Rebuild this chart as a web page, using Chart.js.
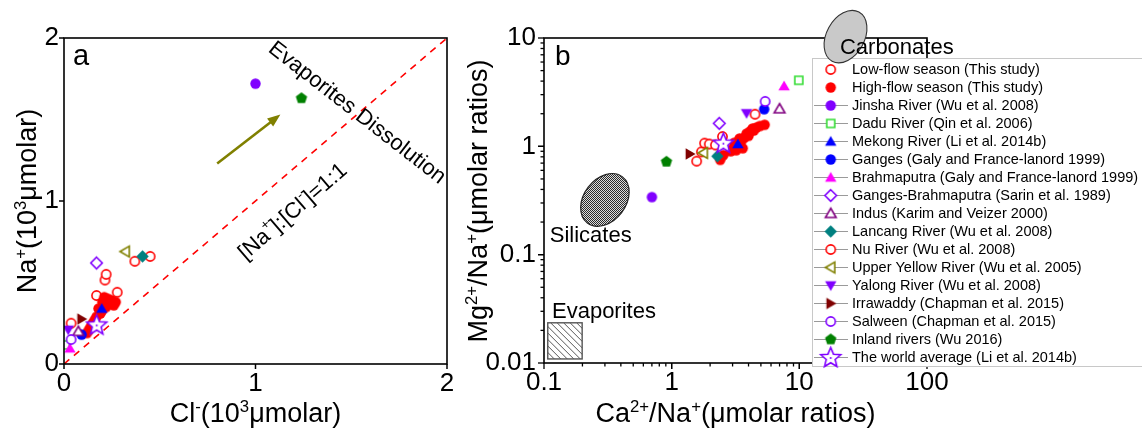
<!DOCTYPE html>
<html><head><meta charset="utf-8">
<script src="https://cdn.jsdelivr.net/npm/chart.js@4/dist/chart.umd.min.js"></script>
<style>
html,body{margin:0;padding:0;background:#fff;width:1142px;height:433px;overflow:hidden}
#ca{position:absolute;left:0;top:0}
#cb{position:absolute;left:460px;top:0}
</style></head><body>
<canvas id="ca" width="460" height="433"></canvas>
<canvas id="cb" width="682" height="433"></canvas>
<script>
const FONT = 'Arial, "Liberation Sans", Helvetica, sans-serif';

// ---------------- series (legend order) ----------------
const seriesNames = [
  'Low-flow season (This study)',
  'High-flow season (This study)',
  'Jinsha River (Wu et al. 2008)',
  'Dadu River (Qin et al. 2006)',
  'Mekong River (Li et al. 2014b)',
  'Ganges (Galy and France-lanord 1999)',
  'Brahmaputra (Galy and France-lanord 1999)',
  'Ganges-Brahmaputra (Sarin et al. 1989)',
  'Indus (Karim and Veizer 2000)',
  'Lancang River (Wu et al. 2008)',
  'Nu River (Wu et al. 2008)',
  'Upper Yellow River (Wu et al. 2005)',
  'Yalong River (Wu et al. 2008)',
  'Irrawaddy (Chapman et al. 2015)',
  'Salween (Chapman et al. 2015)',
  'Inland rivers (Wu 2016)',
  'The world average (Li et al. 2014b)'
];

// ---------------- panel a: [Cl-, Na+] (10^3 umolar) ----------------
const aLowFlow = [[0.17,0.42],[0.214,0.515],[0.22,0.55],[0.278,0.44],[0.37,0.63],[0.45,0.66]];
const aHighFlow = [[0.21,0.41],[0.23,0.40],[0.25,0.39],[0.27,0.38],[0.26,0.36],[0.24,0.37],[0.22,0.35],
                   [0.20,0.33],[0.19,0.31],[0.17,0.29],[0.16,0.27],[0.15,0.25],[0.14,0.23],[0.13,0.21],
                   [0.12,0.19],[0.20,0.38],[0.18,0.34]];
const aJinsha = [[1.0,1.72]];
const aDadu = [[0.008,0.117]];
const aMekong = [[0.197,0.34]];
const aGanges = [[0.092,0.18]];
const aBrahmaputra = [[0.031,0.096]];
const aGangesBrahmaputra = [[0.17,0.62]];
const aIndus = [[0.075,0.20]];
const aLancang = [[0.41,0.66]];
const aNu = [[0.037,0.25]];
const aUpperYellow = [[0.32,0.69]];
const aYalong = [[0.022,0.21]];
const aIrrawaddy = [[0.092,0.276]];
const aSalween = [[0.037,0.15]];
const aInland = [[1.24,1.63]];
const aWorld = [[0.171,0.24]];
const aOneToOne = [[0,0],[2,2]];
const aXTicks = [0,1,2], aXTickLabels = ['0','1','2'];
const aYTicks = [0,1,2], aYTickLabels = ['0','1','2'];
const aArrow = [[0.80,1.23],[1.13,1.53]];

// ---------------- panel b: [Ca2+/Na+, Mg2+/Na+] ----------------
const bLowFlow = [[1.57,0.73],[1.71,0.89],[1.81,1.07],[1.97,1.05],[2.2,1.03],[4.5,1.98]];
const bHighFlow = [[2.4,0.75],[2.54,0.83],[2.9,0.9],[3.0,0.95],[3.2,0.99],[3.3,1.04],[3.5,1.11],[3.6,0.96],
                   [3.7,1.2],[3.86,1.31],[4.1,1.37],[4.3,1.46],[4.6,1.49],[4.9,1.54],[5.35,1.58],[3.1,1.08],
                   [3.4,1.18],[4.0,1.25],[3.2,0.92],[4.4,1.40]];
const bJinsha = [[0.70,0.34]];
const bDadu = [[9.9,4.07]];
const bMekong = [[3.3,1.05]];
const bGanges = [[5.3,2.2]];
const bBrahmaputra = [[7.6,3.6]];
const bGangesBrahmaputra = [[2.36,1.63]];
const bIndus = [[7.0,2.22]];
const bLancang = [[2.28,0.81]];
const bNu = [[2.5,1.23]];
const bUpperYellow = [[1.77,0.87]];
const bYalong = [[3.86,2.02]];
const bIrrawaddy = [[1.39,0.85]];
const bSalween = [[5.4,2.6]];
const bInland = [[0.91,0.72]];
const bWorld = [[2.54,1.07]];
const bXTicks = [0.1,1,10,100], bXTickLabels = ['0.1','1','10','100'];
const bYTicks = [0.01,0.1,1,10], bYTickLabels = ['0.01','0.1','1','10'];
const bCarbonates = [23,10.3];
const bSilicates = [0.30,0.32];
const bEvaporites = [0.107,0.199,0.0109,0.0235];

const aSeries = [aLowFlow,aHighFlow,aJinsha,aDadu,aMekong,aGanges,aBrahmaputra,aGangesBrahmaputra,aIndus,
                 aLancang,aNu,aUpperYellow,aYalong,aIrrawaddy,aSalween,aInland,aWorld];
const bSeries = [bLowFlow,bHighFlow,bJinsha,bDadu,bMekong,bGanges,bBrahmaputra,bGangesBrahmaputra,bIndus,
                 bLancang,bNu,bUpperYellow,bYalong,bIrrawaddy,bSalween,bInland,bWorld];

// ---------------- marker styles ----------------
const markerStyles = [
  {shape:'circle', color:'#ff0000', filled:false, r:4.6},
  {shape:'circle', color:'#ff0000', filled:true, r:5.2},
  {shape:'circle', color:'#8000ff', filled:true, r:5.2},
  {shape:'square', color:'#33dd33', filled:false, r:4},
  {shape:'triUp', color:'#0000ff', filled:true, r:6.6},
  {shape:'circle', color:'#0000ff', filled:true, r:5.2},
  {shape:'triUp', color:'#ff00ff', filled:true, r:6.6},
  {shape:'diamond', color:'#8000ff', filled:false, r:5.8},
  {shape:'triUp', color:'#800080', filled:false, r:6.2},
  {shape:'diamond', color:'#008080', filled:true, r:6.2},
  {shape:'circle', color:'#ff0000', filled:false, r:4.6},
  {shape:'triLeft', color:'#808000', filled:false, r:6.2},
  {shape:'triDown', color:'#8000ff', filled:true, r:6.6},
  {shape:'triRight', color:'#800000', filled:true, r:6.6},
  {shape:'circle', color:'#8000ff', filled:false, r:4.6},
  {shape:'pentagon', color:'#008000', filled:true, r:6},
  {shape:'star', color:'#8000ff', filled:false, r:10.5}
];

function polyPath(g, cx, cy, n, r, start, inner) {
  const pts = inner ? n*2 : n;
  for (let i=0;i<pts;i++){
    const a = start + i*2*Math.PI/pts;
    const rr = inner ? (i%2===0 ? r : inner) : r;
    const x = cx + rr*Math.cos(a), y = cy + rr*Math.sin(a);
    if (i===0) g.moveTo(x,y); else g.lineTo(x,y);
  }
  g.closePath();
}
function makeMarker(st) {
  const lw = st.filled ? 0 : 1.6;
  const s = Math.ceil(2*(st.r+lw+2));
  const c = document.createElement('canvas'); c.width = s; c.height = s;
  const g = c.getContext('2d');
  const cx = s/2, cy = s/2, r = st.r;
  g.beginPath();
  switch (st.shape) {
    case 'circle': g.arc(cx,cy,r,0,2*Math.PI); break;
    case 'square': g.rect(cx-r,cy-r,2*r,2*r); break;
    case 'diamond': polyPath(g,cx,cy,4,r,-Math.PI/2); break;
    case 'triUp': polyPath(g,cx,cy+r*0.15,3,r,-Math.PI/2); break;
    case 'triDown': polyPath(g,cx,cy-r*0.15,3,r,Math.PI/2); break;
    case 'triLeft': polyPath(g,cx+r*0.15,cy,3,r,Math.PI); break;
    case 'triRight': polyPath(g,cx-r*0.15,cy,3,r,0); break;
    case 'pentagon': polyPath(g,cx,cy,5,r,-Math.PI/2); break;
    case 'star': polyPath(g,cx,cy+0.5,5,r,-Math.PI/2,r*0.45); break;
  }
  if (st.filled) { g.fillStyle = st.color; g.fill(); }
  else { g.fillStyle = '#fff'; g.fill(); g.lineWidth = lw; g.strokeStyle = st.color; g.lineJoin='miter'; g.stroke(); }
  if (st.shape === 'star') { g.beginPath(); g.arc(cx,cy+0.5,1,0,2*Math.PI); g.fillStyle = st.color; g.fill(); }
  return c;
}
const markerImgs = markerStyles.map(makeMarker);

function makeDatasets(series) {
  return series.map((arr,i)=>({
    label: seriesNames[i],
    data: arr.map(p=>({x:p[0], y:p[1]})),
    pointStyle: markerImgs[i],
    pointRadius: markerStyles[i].r,
    order: 40 - i
  }));
}

// rich text with superscripts: parts = [[text, isSup], ...]
function drawRich(ctx, parts, x, y, size, rot, baseline) {
  ctx.save();
  ctx.translate(x,y); ctx.rotate(rot||0);
  let w = 0;
  const ws = parts.map(([t,sup])=>{ ctx.font = (sup?size*0.62:size)+'px '+FONT; const m = ctx.measureText(t).width; w += m; return m; });
  let cx = -w/2;
  ctx.textAlign = 'left'; ctx.textBaseline = baseline || 'alphabetic'; ctx.fillStyle = '#000';
  parts.forEach(([t,sup],i)=>{
    ctx.font = (sup?size*0.62:size)+'px '+FONT;
    ctx.fillText(t, cx, sup ? -size*0.36 : 0);
    cx += ws[i];
  });
  ctx.restore();
}

function drawBox(ctx, ca) {
  ctx.save(); ctx.strokeStyle = '#000'; ctx.lineWidth = 1.6;
  ctx.strokeRect(ca.left, ca.top, ca.right-ca.left, ca.bottom-ca.top);
  ctx.restore();
}

// ---------------- panel a ----------------
const panelAPlugin = {
  id: 'panelA',
  afterDatasetsDraw(chart) {
    const ctx = chart.ctx, xs = chart.scales.x, ys = chart.scales.y;
    const x0 = xs.getPixelForValue(aArrow[0][0]), y0 = ys.getPixelForValue(aArrow[0][1]);
    const x1 = xs.getPixelForValue(aArrow[1][0]), y1 = ys.getPixelForValue(aArrow[1][1]);
    const ang = Math.atan2(y1-y0, x1-x0), hl = 13, hw = 5;
    ctx.save();
    ctx.strokeStyle = '#808000'; ctx.fillStyle = '#808000'; ctx.lineWidth = 2.6;
    ctx.beginPath(); ctx.moveTo(x0,y0); ctx.lineTo(x1 - hl*0.8*Math.cos(ang), y1 - hl*0.8*Math.sin(ang)); ctx.stroke();
    ctx.beginPath(); ctx.moveTo(x1,y1);
    ctx.lineTo(x1 - hl*Math.cos(ang) + hw*Math.sin(ang), y1 - hl*Math.sin(ang) - hw*Math.cos(ang));
    ctx.lineTo(x1 - hl*Math.cos(ang) - hw*Math.sin(ang), y1 - hl*Math.sin(ang) + hw*Math.cos(ang));
    ctx.closePath(); ctx.fill();
    ctx.restore();
    drawRich(ctx, [['Evaporites Dissolution',0]], xs.getPixelForValue(1.53), ys.getPixelForValue(1.54), 22, 37.8*Math.PI/180, 'middle');
    drawRich(ctx, [['[Na',0],['+',1],[']:[Cl',0],['-',1],[']=1:1',0]], xs.getPixelForValue(1.196), ys.getPixelForValue(0.933), 22, -40.7*Math.PI/180, 'middle');
  },
  afterDraw(chart) {
    const ctx = chart.ctx, xs = chart.scales.x, ys = chart.scales.y, ca = chart.chartArea;
    drawBox(ctx, ca);
    ctx.save(); ctx.strokeStyle = '#000'; ctx.lineWidth = 1.5;
    aXTicks.forEach(v=>{ const p = xs.getPixelForValue(v); ctx.beginPath(); ctx.moveTo(p, ca.bottom); ctx.lineTo(p, ca.bottom+5); ctx.stroke(); });
    aYTicks.forEach(v=>{ const p = ys.getPixelForValue(v); ctx.beginPath(); ctx.moveTo(ca.left, p); ctx.lineTo(ca.left-5, p); ctx.stroke(); });
    ctx.restore();
    ctx.save(); ctx.font = '29px '+FONT; ctx.fillStyle = '#000'; ctx.textBaseline = 'alphabetic';
    ctx.fillText('a', ca.left+9, ca.top+27); ctx.restore();
    drawRich(ctx, [['Cl',0],['-',1],['(10',0],['3',1],['\u03bcmolar)',0]], (ca.left+ca.right)/2, 422, 27, 0);
    drawRich(ctx, [['Na',0],['+',1],['(10',0],['3',1],['\u03bcmolar)',0]], 36, (ca.top+ca.bottom)/2, 27, -Math.PI/2);
  }
};

const aDatasets = makeDatasets(aSeries);
aDatasets.push({
  type: 'line', label: '1:1', data: aOneToOne.map(p=>({x:p[0], y:p[1]})),
  borderColor: '#ff0000', borderWidth: 1.6, borderDash: [7,6], pointRadius: 0, showLine: true, fill: false, order: 100
});

new Chart(document.getElementById('ca'), {
  type: 'scatter',
  data: { datasets: aDatasets },
  options: {
    responsive: false, animation: false, devicePixelRatio: 1, events: [],
    layout: { padding: { top: 38, right: 13, left: 0, bottom: 0 } },
    plugins: { legend: { display: false }, tooltip: { enabled: false } },
    scales: {
      x: { type: 'linear', min: 0, max: 2,
        afterBuildTicks: s => { s.ticks = aXTicks.map(v=>({value:v})); },
        afterFit: s => { s.height = 69; },
        grid: { display: false, drawTicks: false }, border: { display: false },
        ticks: { callback: (v,i)=>aXTickLabels[i], font: { family: FONT, size: 26 }, color: '#000', padding: 4, maxRotation: 0, autoSkip: false } },
      y: { type: 'linear', min: 0, max: 2,
        afterBuildTicks: s => { s.ticks = aYTicks.map(v=>({value:v})); },
        afterFit: s => { s.width = 64; },
        grid: { display: false, drawTicks: false }, border: { display: false },
        ticks: { callback: (v,i)=>aYTickLabels[i], font: { family: FONT, size: 26 }, color: '#000', padding: 5, autoSkip: false } }
    }
  },
  plugins: [panelAPlugin]
});

// ---------------- panel b ----------------
function ellipse(ctx, cx, cy, a, b, rot) { ctx.beginPath(); ctx.ellipse(cx, cy, a, b, rot, 0, 2*Math.PI); }
function checkerPattern(ctx) {
  const c = document.createElement('canvas'); c.width = 2; c.height = 2;
  const g = c.getContext('2d'); g.fillStyle = '#dcdcdc'; g.fillRect(0,0,2,2);
  g.fillStyle = '#2a2a2a'; g.fillRect(0,0,1,1); g.fillRect(1,1,1,1);
  return ctx.createPattern(c, 'repeat');
}

const panelBPlugin = {
  id: 'panelB',
  beforeDatasetsDraw(chart) {
    const ctx = chart.ctx, xs = chart.scales.x, ys = chart.scales.y;
    ctx.save();
    ellipse(ctx, xs.getPixelForValue(bSilicates[0]), ys.getPixelForValue(bSilicates[1]), 21, 29, 0.65);
    ctx.fillStyle = checkerPattern(ctx); ctx.fill();
    ctx.strokeStyle = '#222'; ctx.lineWidth = 1.2; ctx.stroke();
    ctx.restore();
    const ex0 = xs.getPixelForValue(bEvaporites[0]), ex1 = xs.getPixelForValue(bEvaporites[1]);
    const ey0 = ys.getPixelForValue(bEvaporites[3]), ey1 = ys.getPixelForValue(bEvaporites[2]);
    ctx.save();
    ctx.beginPath(); ctx.rect(ex0, ey0, ex1-ex0, ey1-ey0); ctx.fillStyle = '#fff'; ctx.fill(); ctx.clip();
    ctx.strokeStyle = '#444'; ctx.lineWidth = 0.9;
    const h = ey1-ey0;
    for (let c = -h; c < (ex1-ex0); c += 6.5) { ctx.beginPath(); ctx.moveTo(ex0+c, ey0); ctx.lineTo(ex0+c+h, ey1); ctx.stroke(); }
    ctx.restore();
    ctx.save(); ctx.strokeStyle = '#555'; ctx.lineWidth = 1.4; ctx.strokeRect(ex0, ey0, ex1-ex0, ey1-ey0); ctx.restore();
    ctx.save(); ctx.font = '22px '+FONT; ctx.fillStyle = '#000'; ctx.textBaseline = 'middle'; ctx.textAlign = 'left';
    ctx.fillText('Silicates', xs.getPixelForValue(0.111), ys.getPixelForValue(0.149));
    ctx.fillText('Evaporites', xs.getPixelForValue(0.1155), ys.getPixelForValue(0.0295));
    ctx.restore();
  },
  afterDraw(chart) {
    const ctx = chart.ctx, xs = chart.scales.x, ys = chart.scales.y, ca = chart.chartArea;
    drawBox(ctx, ca);
    ctx.save(); ctx.strokeStyle = '#000'; ctx.lineWidth = 1.3;
    for (let e = -1; e < 2; e++) for (let m = 1; m <= 10; m++) {
      const v = m*Math.pow(10,e); const p = xs.getPixelForValue(v); const L = (m===1||m===10) ? 6 : 3.5;
      ctx.beginPath(); ctx.moveTo(p, ca.bottom); ctx.lineTo(p, ca.bottom+L); ctx.stroke();
    }
    for (let e = -2; e < 1; e++) for (let m = 1; m <= 10; m++) {
      const v = m*Math.pow(10,e); const p = ys.getPixelForValue(v); const L = (m===1||m===10) ? 6 : 3.5;
      ctx.beginPath(); ctx.moveTo(ca.left, p); ctx.lineTo(ca.left-L, p); ctx.stroke();
    }
    ctx.restore();
    ctx.save(); ctx.font = '28px '+FONT; ctx.fillStyle = '#000'; ctx.textBaseline = 'alphabetic';
    ctx.fillText('b', xs.getPixelForValue(0.122), ys.getPixelForValue(5.64)); ctx.restore();
    drawRich(ctx, [['Ca',0],['2+',1],['/Na',0],['+',1],['(\u03bcmolar ratios)',0]], (ca.left+ca.right)/2, 422, 27, 0);
    drawRich(ctx, [['Mg',0],['2+',1],['/Na',0],['+',1],['(\u03bcmolar ratios)',0]], 27, 201, 27, -Math.PI/2);
    const lx = 352, ly0 = 58, ly1 = 366;
    ctx.save();
    ctx.fillStyle = '#fff'; ctx.fillRect(lx, ly0, chart.width - lx + 2, ly1 - ly0);
    ctx.strokeStyle = '#c8c8c8'; ctx.lineWidth = 1; ctx.strokeRect(lx+0.5, ly0+0.5, chart.width - lx + 4, ly1 - ly0);
    ctx.font = '14.5px '+FONT; ctx.textBaseline = 'middle'; ctx.textAlign = 'left'; ctx.fillStyle = '#000';
    seriesNames.forEach((name,i)=>{
      const y = 69.5 + i*18.0;
      const mx = 370.7;
      if (i >= 2) { ctx.strokeStyle = '#9a9a9a'; ctx.lineWidth = 1; ctx.beginPath(); ctx.moveTo(354, y); ctx.lineTo(388, y); ctx.stroke(); }
      const img = markerImgs[i];
      ctx.drawImage(img, mx - img.width/2, y - img.height/2);
      ctx.fillStyle = '#000';
      ctx.fillText(name, 392, y + 0.5);
    });
    ctx.restore();
    ctx.save();
    ellipse(ctx, xs.getPixelForValue(bCarbonates[0]), ys.getPixelForValue(bCarbonates[1]), 19, 28, 0.5);
    ctx.fillStyle = '#c9c9c9'; ctx.fill(); ctx.strokeStyle = '#333'; ctx.lineWidth = 1.1; ctx.stroke();
    ctx.font = '22px '+FONT; ctx.fillStyle = '#000'; ctx.textBaseline = 'middle'; ctx.textAlign = 'left';
    ctx.fillText('Carbonates', xs.getPixelForValue(20.8), ys.getPixelForValue(8.1));
    ctx.restore();
  }
};

new Chart(document.getElementById('cb'), {
  type: 'scatter',
  data: { datasets: makeDatasets(bSeries) },
  options: {
    responsive: false, animation: false, devicePixelRatio: 1, events: [],
    layout: { padding: { top: 38, right: 215, left: 0, bottom: 0 } },
    plugins: { legend: { display: false }, tooltip: { enabled: false } },
    scales: {
      x: { type: 'logarithmic', min: 0.1, max: 100,
        afterBuildTicks: s => { s.ticks = bXTicks.map(v=>({value:v, major:true})); },
        afterFit: s => { s.height = 70; },
        grid: { display: false, drawTicks: false }, border: { display: false },
        ticks: { callback: (v,i)=>bXTickLabels[i], font: { family: FONT, size: 26 }, color: '#000', padding: 4, maxRotation: 0, autoSkip: false } },
      y: { type: 'logarithmic', min: 0.01, max: 10,
        afterBuildTicks: s => { s.ticks = bYTicks.map(v=>({value:v, major:true})); },
        afterFit: s => { s.width = 84; },
        grid: { display: false, drawTicks: false }, border: { display: false },
        ticks: { callback: (v,i)=>bYTickLabels[i], font: { family: FONT, size: 26 }, color: '#000', padding: 8, autoSkip: false } }
    }
  },
  plugins: [panelBPlugin]
});
</script></body></html>
